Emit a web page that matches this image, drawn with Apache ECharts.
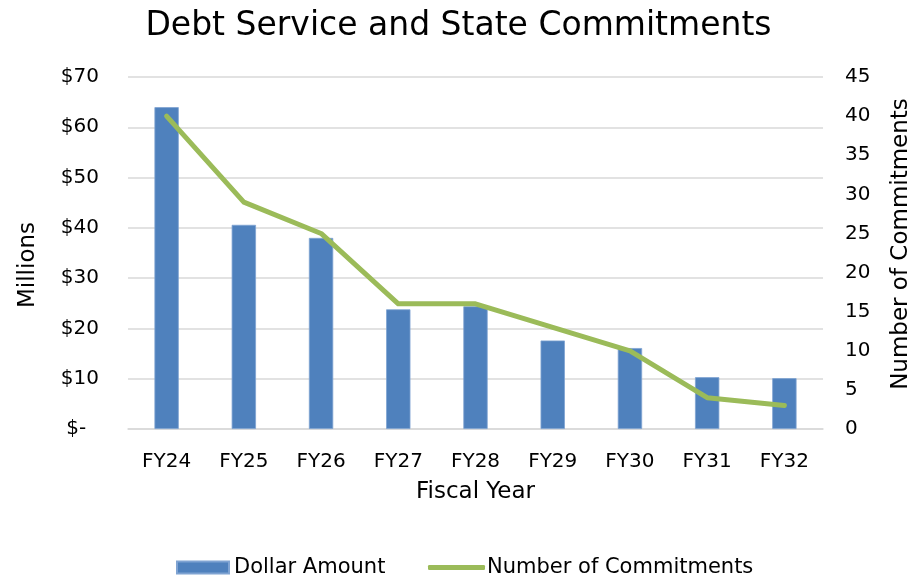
<!DOCTYPE html>
<html>
<head>
<meta charset="utf-8">
<script src="https://cdn.jsdelivr.net/npm/echarts@6/dist/echarts.min.js"></script>
<style>
html,body{margin:0;padding:0;background:#fff;}
#c{width:917px;height:577px;}
</style>
</head>
<body>
<div id="c"></div>
<script>
var categories = ['FY24','FY25','FY26','FY27','FY28','FY29','FY30','FY31','FY32'];
var dollarAmount = [64.0, 40.6, 38.0, 23.8, 24.4, 17.6, 16.1, 10.3, 10.1];
var commitments = [40, 29, 25, 16, 16, 13, 10, 4, 3];
var leftTicks = {0:'$-  ',10:'$10',20:'$20',30:'$30',40:'$40',50:'$50',60:'$60',70:'$70'};

var FONT = '"DejaVu Sans", sans-serif';
var chart = echarts.init(document.getElementById('c'));
chart.setOption({
  animation: false,
  textStyle: {fontFamily: FONT, color: '#000'},
  title: {
    text: 'Debt Service and State Commitments',
    left: 'center', top: 5,
    textStyle: {fontFamily: FONT, fontSize: 33, fontWeight: 'normal', color: '#000'}
  },
  legend: [
    {
      top: 552, left: 171,
      itemWidth: 52, itemHeight: 12,
      textStyle: {fontFamily: FONT, fontSize: 21, color: '#000'},
      data: [{name: 'Dollar Amount', icon: 'rect'}]
    },
    {
      top: 552, left: 423,
      itemWidth: 57, itemHeight: 5,
      textStyle: {fontFamily: FONT, fontSize: 21, color: '#000', padding: [0,0,0,-3]},
      data: [{name: 'Number of Commitments', icon: 'roundRect'}]
    }
  ],
  grid: {left: 128, right: 94, top: 77, bottom: 148, outerBoundsMode: 'none', containLabel: false},
  xAxis: {
    type: 'category', data: categories,
    name: 'Fiscal Year', nameLocation: 'middle', nameGap: 52,
    nameTextStyle: {fontFamily: FONT, fontSize: 23, color: '#000'},
    axisLine: {show: true, lineStyle: {color: '#d9d9d9', width: 1.5}},
    axisTick: {show: false},
    axisLabel: {fontFamily: FONT, fontSize: 20, color: '#000', margin: 23}
  },
  yAxis: [
    {
      type: 'value', min: 0, max: 70, interval: 10,
      name: 'Millions', nameLocation: 'middle', nameGap: 88, nameRotate: 90,
      nameTextStyle: {fontFamily: FONT, fontSize: 23, color: '#000', padding: [0,0,0,-24]},
      axisLine: {show: false}, axisTick: {show: false},
      splitLine: {lineStyle: {color: '#d9d9d9', width: 1.5}},
      axisLabel: {fontFamily: FONT, fontSize: 20, color: '#000', margin: 29,
        formatter: function(v){ return leftTicks[v]; }}
    },
    {
      type: 'value', min: 0, max: 45, interval: 5,
      name: 'Number of Commitments', nameLocation: 'middle', nameGap: 67, nameRotate: 90,
      nameTextStyle: {fontFamily: FONT, fontSize: 23, color: '#000', padding: [0,0,0,18]},
      axisLine: {show: false}, axisTick: {show: false},
      splitLine: {show: false},
      axisLabel: {fontFamily: FONT, fontSize: 20, color: '#000', margin: 22}
    }
  ],
  series: [
    {
      name: 'Dollar Amount', type: 'bar', yAxisIndex: 0,
      data: dollarAmount, barWidth: '31.5%',
      itemStyle: {color: '#4F81BD', borderColor: '#7FA3D2', borderWidth: 0.8}
    },
    {
      name: 'Number of Commitments', type: 'line', yAxisIndex: 1,
      data: commitments, symbol: 'none',
      lineStyle: {color: '#9BBB59', width: 5, cap: 'round', join: 'round'},
      itemStyle: {color: '#9BBB59'}
    }
  ]
});
</script>
</body>
</html>
